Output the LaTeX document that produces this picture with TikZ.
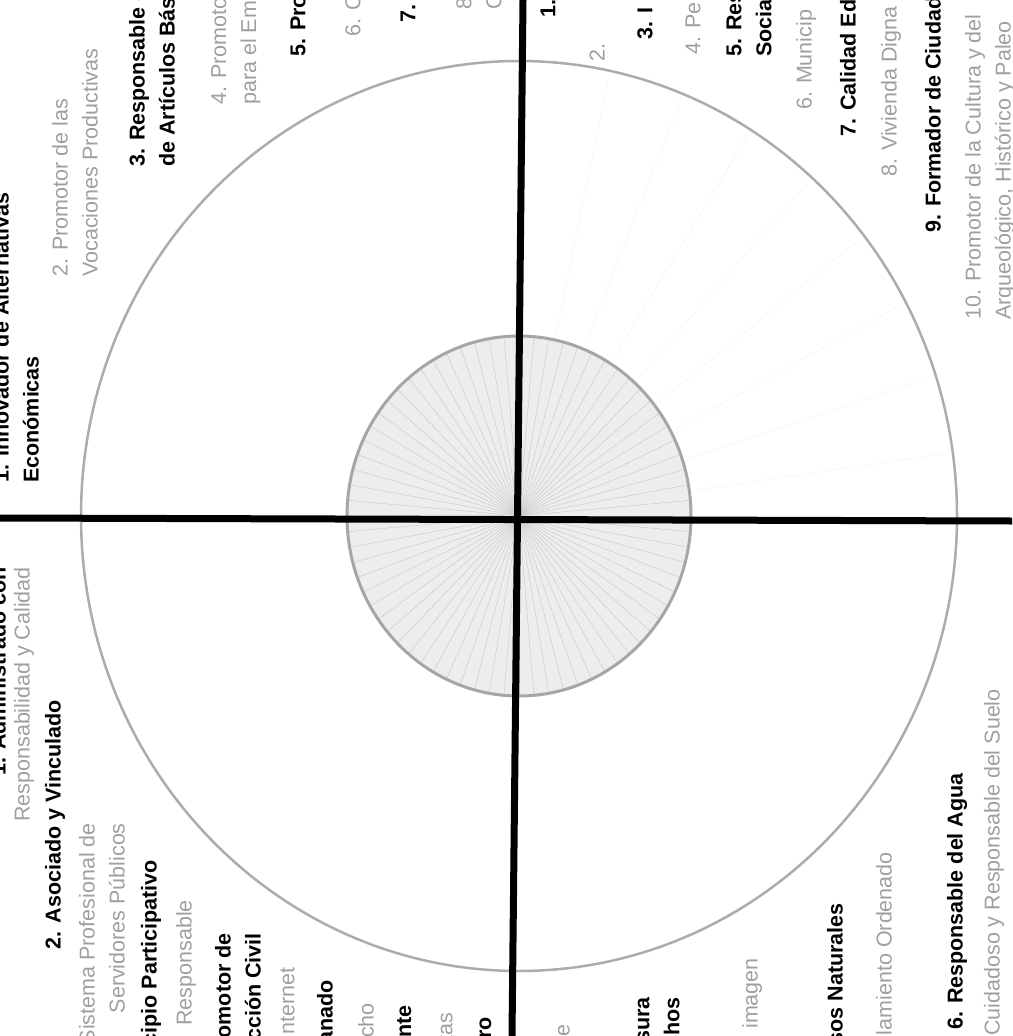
\documentclass[tikz,border=0pt]{standalone}
\usepackage{fontspec}
\setmainfont{Liberation Sans}

\begin{document}
\begin{tikzpicture}[x=1pt, y=-1pt,
    item/.style={rotate=90, inner sep=0pt, font=\fontsize{21.5pt}{30pt}\selectfont},
    head/.style={item, font=\fontsize{21.5pt}{30pt}\selectfont\bfseries},
    sub/.style={item, text=gray!75},
    ray/.style={gray!45, line width=0.4pt},
    axis/.style={line width=7pt}]
                    \useasboundingbox (0,0) rectangle (1012,1036);
                    \clip (0,0) rectangle (1012,1036);
                    \coordinate (c) at (519,516);
                    \coordinate (w) at (0,518);
                    \coordinate (e) at (1012,521);
                    \coordinate (n) at (523,0);
                    \coordinate (s) at (512,1036);

                    \fill[gray!14] (c) ellipse [x radius=172pt, y radius=180pt];
                    \foreach \a in {0,5,...,355}
                        \draw[ray] (c) -- ([shift={(\a:172pt and 180pt)}]c);
                    \draw[gray!70, line width=3pt] (c) ellipse [x radius=172pt, y radius=180pt];
                    \foreach \a in {8,18,...,78}
                        \draw[gray!30, densely dotted] ([shift={(\a:178pt and 186pt)}]c) -- ([shift={(\a:432pt and 449pt)}]c);
                    \draw[gray!65, line width=2.5pt] (c) ellipse [x radius=438pt, y radius=455pt];

                    \draw[axis] (w) -- (e);
                    \draw[axis] (n) -- (s);

                    \node[head, anchor=west, align=left] (inn) at (16,483) {1. Innovador de Alternativas\\Económicas};
                    \node[sub, anchor=west, align=left] (voc) at (75,277) {2. Promotor de las\\Vocaciones Productivas};
                    \node[head, anchor=west, align=left] (art) at (152,167) {3. Responsable de\\de Artículos Básicos};
                    \node[sub, anchor=west, align=left] (emp) at (236,105) {4. Promotor\\para el Empleo};
                    \node[head, anchor=west] (p5) at (298,57) {5. Promotor};
                    \node[sub, anchor=west] (p6) at (353,37) {6. Ca};
                    \node[head, anchor=west] (p7) at (408,23) {7. E};
                    \node[sub, anchor=west, align=left] (p8) at (479,10) {8.\\C};

                    \node[head, anchor=west] (q1) at (548,18) {1.};
                    \node[sub, anchor=west] (q2) at (597,62) {2.};
                    \node[head, anchor=west] (q3) at (645,40) {3. I};
                    \node[sub, anchor=west] (q4) at (693,55) {4. Pe};
                    \node[head, anchor=west, align=left] (q5) at (749,57) {5. Res\\Social};
                    \node[sub, anchor=west] (q6) at (806,110) {6. Municip};
                    \node[head, anchor=west] (q7) at (848,137) {7. Calidad Edu};
                    \node[sub, anchor=west] (q8) at (891,177) {8. Vivienda Digna};
                    \node[head, anchor=west] (q9) at (933,233) {9. Formador de Ciudada};
                    \node[sub, anchor=west, align=left] (q10) at (990,320) {10. Promotor de la Cultura y del\\Arqueológico, Histórico y Paleo};

                    \node[head, anchor=east] (adm) at (-2,567) {1. Administrado con};
                    \node[sub, anchor=east] (cal) at (24,567) {Responsabilidad y Calidad};
                    \node[head, anchor=east] (aso) at (55,700) {2. Asociado y Vinculado};
                    \node[sub, anchor=east, align=right] (spr) at (102,823) {Sistema Profesional de\\Servidores Públicos};
                    \node[head, anchor=east] (mun) at (151,860) {Municipio Participativo};
                    \node[sub, anchor=east] (rsp) at (186,900) {Responsable};
                    \node[head, anchor=east, align=right] (civ) at (238,933) {Promotor de\\Acción Civil};
                    \node[sub, anchor=east] (int) at (287,967) {Internet};
                    \node[head, anchor=east] (ciu) at (325,980) {Hermanado};
                    \node[sub, anchor=east] (der) at (366,1003) {Derecho};
                    \node[head, anchor=east] (tra) at (406,1005) {Transparente};
                    \node[sub, anchor=east] (cue) at (445,1013) {Cuentas};
                    \node[head, anchor=east] (seg) at (486,1017) {Seguro};

                    \node[sub, anchor=east] (sal) at (562,1024) {Saludable};
                    \node[head, anchor=east, align=right] (bas) at (657,997) {Basura\\Desechos};
                    \node[sub, anchor=east] (ima) at (752,958) {imagen};
                    \node[head, anchor=east] (nat) at (835,903) {Recursos Naturales};
                    \node[sub, anchor=east] (ord) at (884,852) {Poblamiento Ordenado};
                    \node[head, anchor=west] (agu) at (957,1030) {6. Responsable del Agua};
                    \node[sub, anchor=west] (sue) at (994,1036) {Cuidadoso y Responsable del Suelo};
                \end{tikzpicture}
\end{document}
